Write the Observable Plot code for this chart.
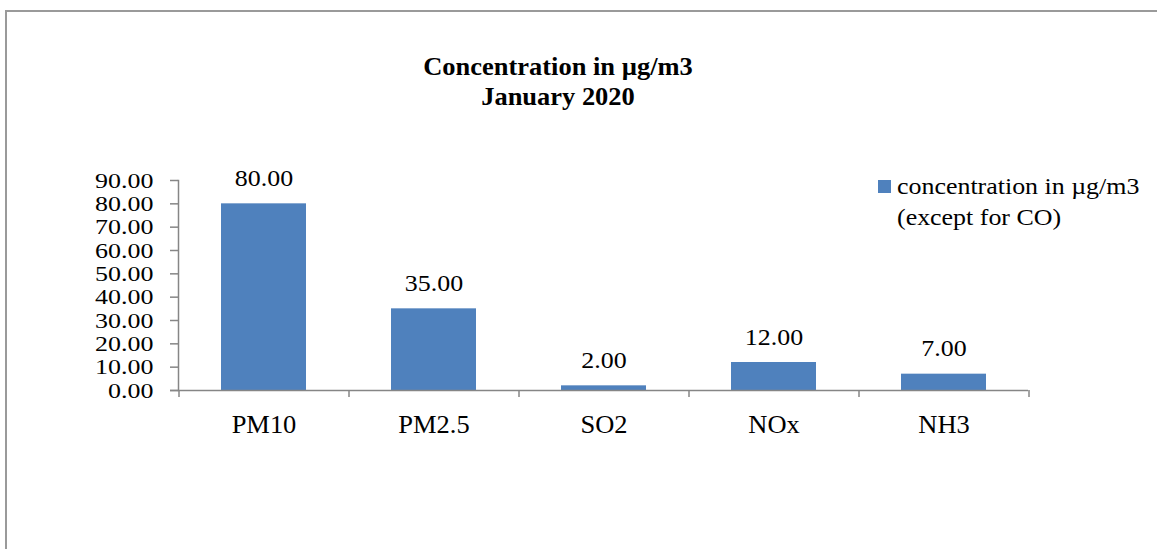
<!DOCTYPE html>
<html>
<head>
<meta charset="utf-8">
<script src="https://cdn.jsdelivr.net/npm/d3@7"></script>
<script src="https://cdn.jsdelivr.net/npm/@observablehq/plot@0.6"></script>
<style>
  html, body { margin: 0; padding: 0; background: #fff; }
  #wrap { position: relative; width: 1157px; height: 549px; overflow: hidden; font-family: "Liberation Serif", "Times New Roman", serif; }
  #border { position: absolute; left: 5px; top: 10px; width: 1200px; height: 600px; border-left: 2px solid #9a9a9a; border-top: 2px solid #9a9a9a; box-sizing: border-box; }
  #title { position: absolute; left: 358px; width: 400px; top: 52px; text-align: center; font-weight: bold; font-size: 24.5px; line-height: 30px; color: #000; transform: scaleX(1.08); transform-origin: center; }
  #legend { position: absolute; left: 878px; top: 171px; font-size: 24px; line-height: 31px; color: #000; }
  #legend .sw { display: inline-block; width: 13px; height: 13px; background: #4F81BD; margin-right: 6px; vertical-align: 1px; }
  #legend .t { display: inline-block; transform: scaleX(1.08); transform-origin: left; }
  #legend .row2 { padding-left: 19px; }
  #chart { position: absolute; left: 0; top: 0; }
</style>
</head>
<body>
<div id="wrap">
  <div id="border"></div>
  <div id="title">Concentration in µg/m3<br>January 2020</div>
  <div id="legend">
    <div><span class="sw"></span><span class="t">concentration in µg/m3</span></div>
    <div class="row2"><span class="t">(except for CO)</span></div>
  </div>
  <div id="chart"></div>
</div>
<script>
const categories = ["PM10", "PM2.5", "SO2", "NOx", "NH3"];
const values = [80, 35, 2, 12, 7];
const yTicks = [0, 10, 20, 30, 40, 50, 60, 70, 80, 90];

const data = categories.map((c, i) => ({category: c, value: values[i]}));
const axisGrey = "#868686";
const barBlue = "#4F81BD";

const chart = Plot.plot({
  width: 1157,
  height: 549,
  marginLeft: 178,
  marginRight: 129,
  marginTop: 180,
  marginBottom: 159,
  style: {fontFamily: "'Liberation Serif', 'Times New Roman', serif", fontSize: "24px", color: "#000", background: "transparent"},
  x: {domain: categories, paddingInner: 0.5, paddingOuter: 0.25, label: null},
  y: {domain: [0, 90], label: null},
  marks: [
    Plot.barY(data, {x: "category", y: "value", fill: barBlue}),
    Plot.ruleY([0], {stroke: axisGrey, strokeWidth: 1.5, insetLeft: -8}),
    Plot.frame({anchor: "left", stroke: axisGrey, strokeWidth: 1.5}),
    Plot.axisY({ticks: yTicks, tickFormat: d => d.toFixed(2), tickSize: 8, tickPadding: 17, stroke: axisGrey, strokeWidth: 1.5, fill: "#000", fontSize: 22, label: null, className: "yax"}),
    Plot.axisX({tickSize: 0, tickPadding: 25, fill: "#000", fontSize: 24.5, label: null}),
    Plot.ruleX(data, {x: "category", dx: -85, y1: 0, y2: 0, insetBottom: -7, stroke: axisGrey, strokeWidth: 1.5}),
    Plot.ruleX(data.slice(-1), {x: "category", dx: 85, y1: 0, y2: 0, insetBottom: -7, stroke: axisGrey, strokeWidth: 1.5}),
    Plot.text(data, {x: "category", y: "value", text: d => d.value.toFixed(2), dy: -18, lineAnchor: "bottom", fill: "#000", fontSize: 24})
  ]
});
document.getElementById("chart").appendChild(chart);
// horizontal stretch of glyphs, as in the reference rendering
chart.querySelectorAll("text").forEach(t => {
  if (t.querySelector("tspan")) return;
  const len = t.getComputedTextLength();
  const k = t.closest(".yax") ? 1.18 : 1.08;
  if (len > 0) {
    t.setAttribute("textLength", (len * k).toFixed(2));
    t.setAttribute("lengthAdjust", "spacingAndGlyphs");
  }
});
</script>
</body>
</html>
